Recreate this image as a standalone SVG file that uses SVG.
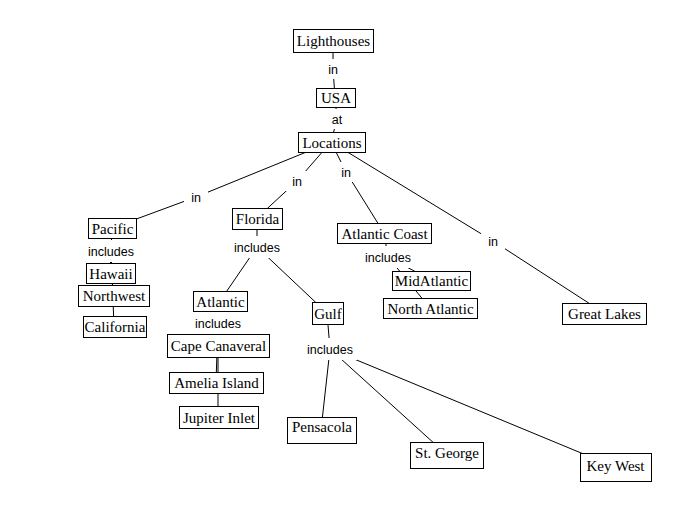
<svg xmlns="http://www.w3.org/2000/svg" width="689" height="522" viewBox="0 0 689 522">
<style>
.bg{fill:#fff}
.n rect{fill:#fff;stroke:#000;stroke-width:1}
.n text{font-family:"Liberation Serif",serif;font-size:15px;text-anchor:middle;fill:#000}
.c line{stroke:#000;stroke-width:1}
.l rect{fill:#fff}
.l text{font-family:"Liberation Sans",sans-serif;font-size:12.5px;text-anchor:middle;fill:#000}
</style>
<rect class="bg" width="689" height="522"/>
<g id="connectors" class="c">
<line x1="333" y1="41" x2="333" y2="69"/><line x1="333" y1="69" x2="335" y2="97"/>
<line x1="335" y1="97" x2="337" y2="119"/><line x1="337" y1="119" x2="331" y2="142"/>
<line x1="331" y1="142" x2="196" y2="197"/><line x1="196" y1="197" x2="112" y2="228"/>
<line x1="331" y1="142" x2="297" y2="181"/><line x1="297" y1="181" x2="257" y2="218"/>
<line x1="331" y1="142" x2="346" y2="172"/><line x1="346" y1="172" x2="384" y2="233"/>
<line x1="331" y1="142" x2="493" y2="241"/><line x1="493" y1="241" x2="604" y2="313"/>
<line x1="112" y1="228" x2="111" y2="251"/><line x1="111" y1="251" x2="110" y2="273"/><line x1="111" y1="251" x2="113" y2="295"/><line x1="111" y1="251" x2="114" y2="326"/>
<line x1="257" y1="218" x2="257" y2="247"/><line x1="257" y1="247" x2="220" y2="301"/><line x1="257" y1="247" x2="327" y2="313"/>
<line x1="220" y1="301" x2="218" y2="323"/><line x1="218" y1="323" x2="218" y2="345"/><line x1="218" y1="323" x2="216" y2="382"/><line x1="218" y1="323" x2="218" y2="417"/>
<line x1="327" y1="313" x2="330" y2="349"/><line x1="330" y1="349" x2="321" y2="430"/><line x1="330" y1="349" x2="447" y2="455"/><line x1="330" y1="349" x2="615" y2="467"/>
<line x1="384" y1="233" x2="388" y2="257"/><line x1="388" y1="257" x2="431" y2="280"/><line x1="388" y1="257" x2="430" y2="308"/>
</g>
<g id="labels" class="l">
<rect x="322" y="59" width="22" height="20"/><text x="333" y="73.5">in</text>
<rect x="326" y="109" width="22" height="20"/><text x="337" y="123.5">at</text>
<rect x="184" y="187" width="24" height="20"/><text x="196" y="201.5">in</text>
<rect x="285" y="171" width="24" height="20"/><text x="297" y="185.5">in</text>
<rect x="334" y="162" width="24" height="20"/><text x="346" y="176.5">in</text>
<rect x="481" y="231" width="24" height="20"/><text x="493" y="245.5">in</text>
<rect x="84" y="240" width="54" height="22"/><text x="111" y="255.5">includes</text>
<rect x="230" y="236" width="54" height="22"/><text x="257" y="251.5">includes</text>
<rect x="191" y="312" width="54" height="22"/><text x="218" y="327.5">includes</text>
<rect x="303" y="338" width="54" height="22"/><text x="330" y="353.5">includes</text>
<rect x="361" y="246" width="54" height="22"/><text x="388" y="261.5">includes</text>
</g>
<g id="n-lighthouses" class="n"><rect x="293.5" y="29.5" width="80" height="23"/><text x="333.5" y="46">Lighthouses</text></g>
<g id="n-usa" class="n"><rect x="316.5" y="88.5" width="39" height="19"/><text x="336" y="103">USA</text></g>
<g id="n-locations" class="n"><rect x="298.5" y="132.5" width="67" height="20"/><text x="332" y="147.5">Locations</text></g>
<g id="n-pacific" class="n"><rect x="88.5" y="218.5" width="48" height="20"/><text x="112.5" y="233.5">Pacific</text></g>
<g id="n-florida" class="n"><rect x="232.5" y="208.5" width="50" height="21"/><text x="257.5" y="224">Florida</text></g>
<g id="n-atlantic-coast" class="n"><rect x="337.5" y="223.5" width="94" height="20"/><text x="384.5" y="238.5">Atlantic Coast</text></g>
<g id="n-great-lakes" class="n"><rect x="562.5" y="303.5" width="84" height="21"/><text x="604.5" y="319">Great Lakes</text></g>
<g id="n-hawaii" class="n"><rect x="86.5" y="263.5" width="49" height="20"/><text x="111" y="278.5">Hawaii</text></g>
<g id="n-northwest" class="n"><rect x="78.5" y="285.5" width="71" height="21"/><text x="114" y="301">Northwest</text></g>
<g id="n-california" class="n"><rect x="83.5" y="316.5" width="63" height="21"/><text x="115" y="332">California</text></g>
<g id="n-atlantic" class="n"><rect x="193.5" y="291.5" width="54" height="20"/><text x="220.5" y="306.5">Atlantic</text></g>
<g id="n-gulf" class="n"><rect x="312.5" y="302.5" width="31" height="22"/><text x="328" y="318.5">Gulf</text></g>
<g id="n-cape-canaveral" class="n"><rect x="167.5" y="334.5" width="102" height="23"/><text x="218.5" y="351">Cape Canaveral</text></g>
<g id="n-amelia-island" class="n"><rect x="169.5" y="372.5" width="94" height="21"/><text x="216.5" y="388">Amelia Island</text></g>
<g id="n-jupiter-inlet" class="n"><rect x="179.5" y="406.5" width="79" height="22"/><text x="219" y="422.5">Jupiter Inlet</text></g>
<g id="n-midatlantic" class="n"><rect x="392.5" y="271.5" width="78" height="19"/><text x="431.5" y="286">MidAtlantic</text></g>
<g id="n-north-atlantic" class="n"><rect x="383.5" y="298.5" width="94" height="20"/><text x="430.5" y="313.5">North Atlantic</text></g>
<g id="n-pensacola" class="n"><rect x="287.5" y="417.5" width="69" height="26"/><text x="322" y="432">Pensacola</text></g>
<g id="n-st-george" class="n"><rect x="410.5" y="442.5" width="73" height="26"/><text x="447" y="457.5">St. George</text></g>
<g id="n-key-west" class="n"><rect x="580.5" y="453.5" width="71" height="28"/><text x="615.5" y="470.5">Key West</text></g>
</svg>
